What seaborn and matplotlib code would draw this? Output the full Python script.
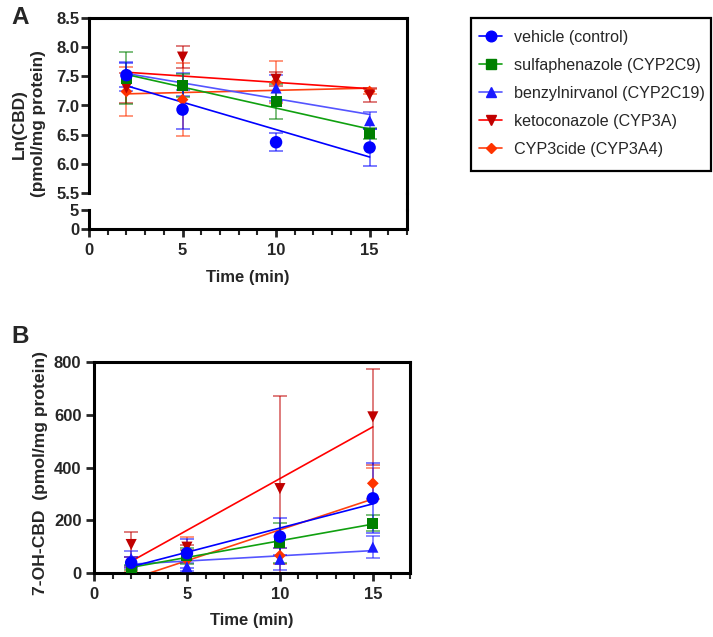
import numpy as np
import pandas as pd
import seaborn as sns
import matplotlib.pyplot as plt
from matplotlib.lines import Line2D
from matplotlib.patches import Rectangle
from matplotlib.ticker import MultipleLocator

# time points (min)
time = [2, 5, 10, 15]

groups = ["vehicle (control)", "sulfaphenazole (CYP2C9)", "benzylnirvanol (CYP2C19)",
          "ketoconazole (CYP3A)", "CYP3cide (CYP3A4)"]

# panel A: Ln(CBD) mean and SD
cbd_vehicle = [7.52, 6.93, 6.37, 6.28]
cbd_vehicle_sd = [0.21, 0.34, 0.15, 0.31]
cbd_sulfa = [7.47, 7.34, 7.07, 6.52]
cbd_sulfa_sd = [0.45, 0.20, 0.30, 0.10]
cbd_benzyl = [7.50, 7.36, 7.30, 6.74]
cbd_benzyl_sd = [0.25, 0.20, 0.22, 0.15]
cbd_keto = [7.30, 7.83, 7.45, 7.18]
cbd_keto_sd = [0.25, 0.19, 0.12, 0.12]
cbd_cyp3cide = [7.24, 7.10, 7.40, 7.24]
cbd_cyp3cide_sd = [0.42, 0.63, 0.36, 0.05]

# panel B: 7-OH-CBD mean and SD
oh_vehicle = [39, 75, 138, 283]
oh_vehicle_sd = [20, 55, 70, 133]
oh_sulfa = [20, 65, 114, 189]
oh_sulfa_sd = [10, 30, 75, 30]
oh_benzyl = [55, 24, 52, 98]
oh_benzyl_sd = [30, 15, 42, 42]
oh_keto = [108, 98, 320, 592]
oh_keto_sd = [48, 10, 350, 182]
oh_cyp3cide = [12, 50, 66, 340]
oh_cyp3cide_sd = [10, 85, 30, 60]

marker_colors = ["#0000ff", "#008000", "#1a1aff", "#c00000", "#ff3300"]
line_colors = ["#0000ff", "#10a010", "#5555ff", "#ff0000", "#ff4010"]
markers = ["o", "s", "^", "v", "D"]
msizes = [9, 8, 8, 8, 6]

sns.set_style("white")
plt.rcParams["font.family"] = ["Liberation Sans", "DejaVu Sans"]
plt.rcParams["font.weight"] = "bold"
FS = 12

W, H = 713, 637
fig = plt.figure(figsize=(W / 100, H / 100), dpi=100)


def frac(left, top, right, bottom):
    return [left / W, 1 - bottom / H, (right - left) / W, (bottom - top) / H]


ax_up = fig.add_axes(frac(89, 18, 407, 193))
ax_lo = fig.add_axes(frac(89, 210, 407, 229))
ax_b = fig.add_axes(frac(94, 362, 410, 573))


def draw(ax, means, sds):
    for i in reversed(range(len(groups))):
        df = pd.DataFrame({"t": time, "y": means[i]})
        sns.regplot(data=df, x="t", y="y", ax=ax, ci=None, scatter=False, truncate=True,
                    line_kws={"color": line_colors[i], "lw": 1.2})
        ax.errorbar(time, means[i], yerr=sds[i], fmt="none", ecolor=marker_colors[i],
                    alpha=0.6, elinewidth=1.2, capsize=5, capthick=1.2)
        sns.scatterplot(data=df, x="t", y="y", ax=ax, color=marker_colors[i],
                        marker=markers[i], s=msizes[i] ** 2, edgecolor="none", zorder=5)
    ax.set_xlabel("")
    ax.set_ylabel("")


draw(ax_up, [cbd_vehicle, cbd_sulfa, cbd_benzyl, cbd_keto, cbd_cyp3cide],
     [cbd_vehicle_sd, cbd_sulfa_sd, cbd_benzyl_sd, cbd_keto_sd, cbd_cyp3cide_sd])
draw(ax_b, [oh_vehicle, oh_sulfa, oh_benzyl, oh_keto, oh_cyp3cide],
     [oh_vehicle_sd, oh_sulfa_sd, oh_benzyl_sd, oh_keto_sd, oh_cyp3cide_sd])

for ax in [ax_up, ax_lo, ax_b]:
    ax.set_xlim(0, 17)
    for s in ax.spines.values():
        s.set_linewidth(2.2)
        s.set_color("black")
    ax.tick_params(axis="both", which="major", length=6, width=2, labelsize=FS,
                   direction="out", left=True, bottom=True)
    ax.tick_params(axis="y", pad=1)
    ax.tick_params(axis="x", pad=4)
    ax.tick_params(axis="x", which="minor", length=4, width=1.5, direction="out", bottom=True)
    ax.set_xticks([0, 5, 10, 15])
    ax.xaxis.set_minor_locator(MultipleLocator(1))

ax_up.set_ylim(5.5, 8.5)
ax_up.set_yticks(np.arange(5.5, 8.51, 0.5))
ax_up.set_yticklabels([f"{v:.1f}" for v in np.arange(5.5, 8.51, 0.5)], fontweight="bold")
ax_up.spines["bottom"].set_visible(False)
ax_up.tick_params(axis="x", which="both", bottom=False, labelbottom=False)

ax_lo.set_ylim(0, 5)
ax_lo.set_yticks([0, 5])
ax_lo.set_yticklabels(["0", "5"], fontweight="bold")
ax_lo.spines["top"].set_visible(False)
ax_lo.set_xticklabels(["0", "5", "10", "15"], fontweight="bold")
fig.add_artist(Line2D([407 / W, 407 / W], [1 - 192 / H, 1 - 211 / H], color="black", lw=2.2,
                      transform=fig.transFigure))

ax_b.set_ylim(0, 800)
ax_b.set_yticks([0, 200, 400, 600, 800])
ax_b.set_yticklabels(["0", "200", "400", "600", "800"], fontweight="bold")
ax_b.tick_params(axis="y", pad=3)
ax_b.set_xticklabels(["0", "5", "10", "15"], fontweight="bold")

fig.text(248 / W, 1 - 277 / H, "Time (min)", ha="center", va="center", fontsize=FS, fontweight="bold")
fig.text(252 / W, 1 - 620 / H, "Time (min)", ha="center", va="center", fontsize=FS, fontweight="bold")
fig.text(29 / W, 1 - 124 / H, "Ln(CBD)\n(pmol/mg protein)", rotation=90, ha="center",
         va="center", fontsize=12.4, fontweight="bold", linespacing=1.3)
fig.text(41 / W, 1 - 473 / H, "7-OH-CBD  (pmol/mg protein)", rotation=90, ha="center",
         va="center", fontsize=12.6, fontweight="bold")
fig.text(11 / W, 1 - 6 / H, "A", fontsize=17.5, fontweight="bold", va="top")
fig.text(11 / W, 1 - 325 / H, "B", fontsize=17.5, fontweight="bold", va="top")

handles = [Line2D([0], [0], color=line_colors[i], marker=markers[i], markersize=msizes[i] * 0.85,
                  markerfacecolor=marker_colors[i], markeredgecolor=marker_colors[i], lw=1.2)
           for i in range(len(groups))]
leg = fig.legend(handles, groups, loc="upper left", bbox_to_anchor=(479 / W, 1 - 30 / H),
                 frameon=False, handlelength=1.45, labelspacing=0.8, borderpad=0,
                 borderaxespad=0, handletextpad=0.7,
                 prop={"family": "Liberation Sans", "weight": "normal", "size": 11.6})
fig.add_artist(Rectangle((471 / W, 1 - 171 / H), 240 / W, 153 / H, fill=False, lw=1.6,
                         edgecolor="black", transform=fig.transFigure))

plt.savefig("out.png", dpi=100)
